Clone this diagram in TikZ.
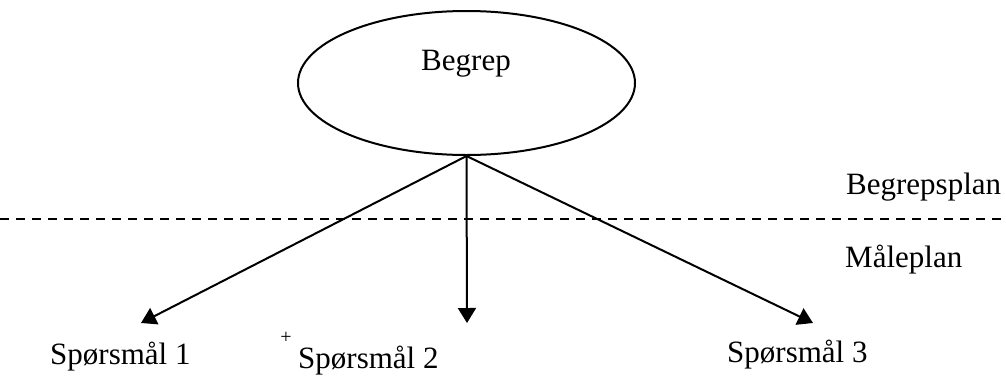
\documentclass[tikz,border=0pt]{standalone}
\usepackage{fontspec}
\setmainfont{Liberation Serif}
\usetikzlibrary{shapes.geometric,arrows.meta}
\begin{document}
\begin{tikzpicture}[x=1pt,y=-1pt,
  lbl/.style={font=\fontsize{31}{36}\selectfont, inner sep=0pt, anchor=base west},
  conn/.style={line width=2pt, -{Triangle[length=15pt,width=18pt]}},
  dashline/.style={line width=2pt, dash pattern=on 9pt off 7pt}]
\useasboundingbox (0,0) rectangle (1006,378);
\node[ellipse, draw, line width=2pt, minimum width=337pt, minimum height=144pt, inner sep=0pt] (ell) at (466.5,83) {};
\node[font=\fontsize{31}{36}\selectfont, inner sep=0pt, anchor=base] (lab) at (466,70) {Begrep};
\coordinate (dl) at (0,219);
\coordinate (dr) at (1006,219);
\draw[dashline] (dl) -- (dr);
\node[lbl] (bp) at (846,194) {Begrepsplan};
\node[lbl] (mp) at (845,267) {Måleplan};
\coordinate (t1) at (141,323);
\coordinate (t2) at (467,323);
\coordinate (t3) at (813,323);
\draw[conn] (ell.south) -- (t1);
\draw[conn] (ell.south) -- (t2);
\draw[conn] (ell.south) -- (t3);
\node[lbl] (s1) at (50,364) {Spørsmål 1};
\node[font=\fontsize{20}{22}\selectfont, inner sep=0pt] (plus) at (286,338) {+};
\node[lbl] (s2) at (298,368) {Spørsmål 2};
\node[lbl] (s3) at (727,362) {Spørsmål 3};
\end{tikzpicture}
\end{document}
